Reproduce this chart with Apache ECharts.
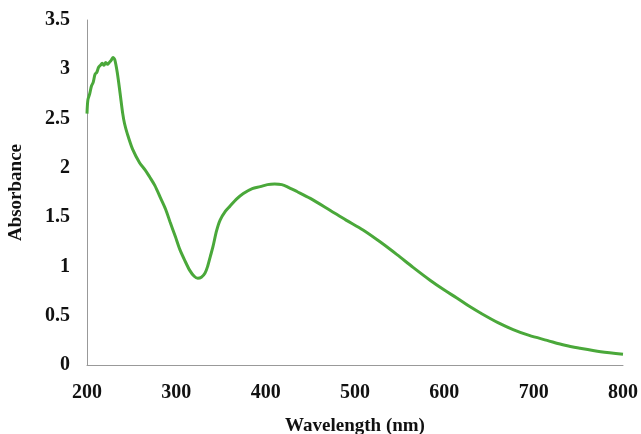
<!DOCTYPE html>
<html>
<head>
<meta charset="utf-8">
<script src="https://cdn.jsdelivr.net/npm/echarts@6/dist/echarts.min.js"></script>
<style>
  html, body { margin: 0; padding: 0; background: #fff; }
  #chart { width: 641px; height: 434px; }
</style>
</head>
<body>
<div id="chart"></div>
<script>
// wavelength (nm) and absorbance
const wavelength = [200, 201, 203, 205, 207, 209, 211, 213, 215, 217, 219, 221, 223, 225, 227, 229, 231, 234, 237, 240,
  242, 245, 251, 259, 265, 270, 276, 282, 288, 293, 299, 304, 310, 315, 320, 324, 328, 332, 335, 338,
  341, 345, 349, 355, 360, 367, 375, 385, 394, 402, 410, 418, 426, 435, 450, 472, 490, 509, 528,
  547, 565, 584, 600, 614, 628, 640, 660, 677, 695, 715, 735, 752, 775, 800];
const absorbance = [2.55, 2.69, 2.75, 2.83, 2.87, 2.95, 2.97, 3.02, 3.04, 3.06, 3.04, 3.07, 3.05, 3.07, 3.09, 3.12, 3.10, 2.96, 2.76, 2.55,
  2.45, 2.35, 2.19, 2.05, 1.98, 1.91, 1.82, 1.70, 1.58, 1.45, 1.30, 1.17, 1.05, 0.96, 0.90, 0.88, 0.89, 0.93, 1.00, 1.10,
  1.20, 1.36, 1.47, 1.56, 1.61, 1.68, 1.74, 1.79, 1.81, 1.83, 1.835, 1.83, 1.80, 1.76, 1.69, 1.57, 1.47, 1.37, 1.25,
  1.12, 0.99, 0.86, 0.76, 0.68, 0.595, 0.53, 0.43, 0.36, 0.30, 0.25, 0.20, 0.17, 0.135, 0.11];

const points = wavelength.map((w, i) => [w, absorbance[i]]);

const chart = echarts.init(document.getElementById('chart'));
const labelFont = { fontFamily: 'Liberation Serif', fontWeight: 'bold', fontSize: 20, color: '#111' };
const nameFont = { fontFamily: 'Liberation Serif', fontWeight: 'bold', fontSize: 19, color: '#111' };

chart.setOption({
  animation: false,
  grid: { left: 87, right: 18, top: 20, bottom: 69, outerBoundsMode: 'none' },
  xAxis: {
    type: 'value',
    min: 200,
    max: 800,
    interval: 100,
    name: 'Wavelength (nm)',
    nameLocation: 'middle',
    nameGap: 52,
    nameTextStyle: nameFont,
    axisLine: { lineStyle: { color: '#999', width: 1 } },
    axisTick: { show: false },
    splitLine: { show: false },
    axisLabel: Object.assign({ margin: 18 }, labelFont)
  },
  yAxis: {
    type: 'value',
    min: 0,
    max: 3.5,
    interval: 0.5,
    name: 'Absorbance',
    nameLocation: 'middle',
    nameGap: 61,
    nameTextStyle: nameFont,
    axisLine: { show: true, lineStyle: { color: '#999', width: 1 } },
    axisTick: { show: false },
    splitLine: { show: false },
    axisLabel: Object.assign({ margin: 17 }, labelFont)
  },
  series: [{
    type: 'line',
    data: points,
    smooth: 0.3,
    showSymbol: false,
    lineStyle: { color: '#4aa83a', width: 3 }
  }]
});
</script>
</body>
</html>
